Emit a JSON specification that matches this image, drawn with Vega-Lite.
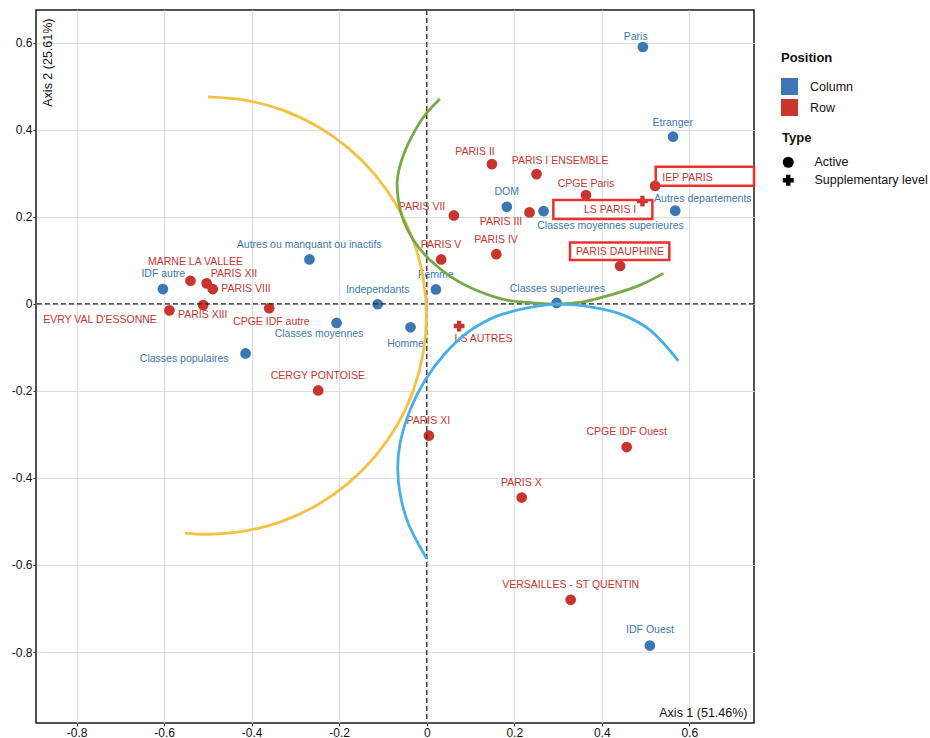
{
  "$schema": "https://vega.github.io/schema/vega-lite/v6.json",
  "width": 718,
  "height": 713,
  "autosize": {"type": "none"},
  "padding": {"left": 36, "top": 10, "right": 176, "bottom": 15},
  "config": {
    "font": "Liberation Sans",
    "view": {"stroke": "#1a1a1a", "strokeWidth": 1.5},
    "axis": {
      "grid": true, "gridColor": "#dedede", "gridWidth": 1.2, "domain": false,
      "tickColor": "#333", "tickSize": 3, "labelFontSize": 12, "labelColor": "#111",
      "labelFont": "Liberation Sans", "titleFont": "Liberation Sans", "titleFontSize": 12.5,
      "titleFontWeight": "normal", "titleColor": "#111", "labelPadding": 1
    },
    "legend": {"labelFont": "Liberation Sans", "labelFontSize": 12.5, "titleFont": "Liberation Sans", "titleFontSize": 13, "titleFontWeight": "bold", "labelColor": "#111", "titleColor": "#111"}
  },
  "datasets": {
    "pts": [
      {"name": "Paris", "x": 0.494, "y": 0.590, "lx": 0.4777, "ly": 0.6138, "position": "Column", "type": "Active"},
      {"name": "Etranger", "x": 0.563, "y": 0.384, "lx": 0.5623, "ly": 0.4154, "position": "Column", "type": "Active"},
      {"name": "Autres departements", "x": 0.568, "y": 0.214, "lx": 0.6311, "ly": 0.2407, "position": "Column", "type": "Active"},
      {"name": "DOM", "x": 0.183, "y": 0.223, "lx": 0.1829, "ly": 0.2568, "position": "Column", "type": "Active"},
      {"name": "Classes moyennes superieures", "x": 0.267, "y": 0.213, "lx": 0.4201, "ly": 0.1786, "position": "Column", "type": "Active"},
      {"name": "Classes superieures", "x": 0.297, "y": 0.002, "lx": 0.2985, "ly": 0.0338, "position": "Column", "type": "Active"},
      {"name": "Femme", "x": 0.021, "y": 0.033, "lx": 0.0208, "ly": 0.0660, "position": "Column", "type": "Active"},
      {"name": "Independants", "x": -0.112, "y": -0.001, "lx": -0.1120, "ly": 0.0308, "position": "Column", "type": "Active"},
      {"name": "Homme", "x": -0.037, "y": -0.054, "lx": -0.0485, "ly": -0.0933, "position": "Column", "type": "Active"},
      {"name": "Classes moyennes", "x": -0.206, "y": -0.044, "lx": -0.2462, "ly": -0.0703, "position": "Column", "type": "Active"},
      {"name": "Autres ou manquant ou inactifs", "x": -0.268, "y": 0.102, "lx": -0.2686, "ly": 0.1349, "position": "Column", "type": "Active"},
      {"name": "IDF autre", "x": -0.603, "y": 0.034, "lx": -0.6021, "ly": 0.0690, "position": "Column", "type": "Active"},
      {"name": "Classes populaires", "x": -0.414, "y": -0.114, "lx": -0.5543, "ly": -0.1264, "position": "Column", "type": "Active"},
      {"name": "IDF Ouest", "x": 0.510, "y": -0.785, "lx": 0.5104, "ly": -0.7501, "position": "Column", "type": "Active"},
      {"name": "PARIS II", "x": 0.149, "y": 0.321, "lx": 0.1104, "ly": 0.3487, "position": "Row", "type": "Active"},
      {"name": "PARIS I ENSEMBLE", "x": 0.251, "y": 0.298, "lx": 0.3047, "ly": 0.3274, "position": "Row", "type": "Active"},
      {"name": "CPGE Paris", "x": 0.364, "y": 0.250, "lx": 0.3641, "ly": 0.2752, "position": "Row", "type": "Active"},
      {"name": "PARIS VII", "x": 0.062, "y": 0.203, "lx": -0.0107, "ly": 0.2230, "position": "Row", "type": "Active"},
      {"name": "PARIS III", "x": 0.235, "y": 0.210, "lx": 0.1698, "ly": 0.1871, "position": "Row", "type": "Active"},
      {"name": "IEP PARIS", "x": 0.522, "y": 0.271, "lx": 0.5961, "ly": 0.2883, "position": "Row", "type": "Active"},
      {"name": "LS PARIS I", "x": 0.493, "y": 0.236, "lx": 0.4190, "ly": 0.2154, "position": "Row", "type": "Supplementary level"},
      {"name": "PARIS V", "x": 0.033, "y": 0.102, "lx": 0.0327, "ly": 0.1349, "position": "Row", "type": "Active"},
      {"name": "PARIS IV", "x": 0.159, "y": 0.114, "lx": 0.1584, "ly": 0.1464, "position": "Row", "type": "Active"},
      {"name": "PARIS DAUPHINE", "x": 0.442, "y": 0.087, "lx": 0.4418, "ly": 0.1189, "position": "Row", "type": "Active"},
      {"name": "LS AUTRES", "x": 0.074, "y": -0.051, "lx": 0.1298, "ly": -0.0805, "position": "Row", "type": "Supplementary level"},
      {"name": "CERGY PONTOISE", "x": -0.248, "y": -0.199, "lx": -0.2489, "ly": -0.1655, "position": "Row", "type": "Active"},
      {"name": "PARIS XI", "x": 0.005, "y": -0.303, "lx": 0.0037, "ly": -0.2697, "position": "Row", "type": "Active"},
      {"name": "CPGE IDF Ouest", "x": 0.457, "y": -0.329, "lx": 0.4571, "ly": -0.2956, "position": "Row", "type": "Active"},
      {"name": "PARIS X", "x": 0.217, "y": -0.445, "lx": 0.2162, "ly": -0.4122, "position": "Row", "type": "Active"},
      {"name": "VERSAILLES - ST QUENTIN", "x": 0.329, "y": -0.680, "lx": 0.3291, "ly": -0.6451, "position": "Row", "type": "Active"},
      {"name": "MARNE LA VALLEE", "x": -0.540, "y": 0.053, "lx": -0.5285, "ly": 0.0959, "position": "Row", "type": "Active"},
      {"name": "PARIS XII", "x": -0.503, "y": 0.047, "lx": -0.4405, "ly": 0.0690, "position": "Row", "type": "Active"},
      {"name": "PARIS VIII", "x": -0.489, "y": 0.034, "lx": -0.4130, "ly": 0.0338, "position": "Row", "type": "Active"},
      {"name": "PARIS XIII", "x": -0.511, "y": -0.003, "lx": -0.5120, "ly": -0.0267, "position": "Row", "type": "Active"},
      {"name": "EVRY VAL D'ESSONNE", "x": -0.588, "y": -0.015, "lx": -0.7467, "ly": -0.0375, "position": "Row", "type": "Active"},
      {"name": "CPGE IDF autre", "x": -0.360, "y": -0.010, "lx": -0.3552, "ly": -0.0428, "position": "Row", "type": "Active"}
    ],
    "arcs": [
      {"arc": "yellow", "i": 1, "x": -0.5000, "y": 0.4752},
      {"arc": "yellow", "i": 2, "x": -0.4133, "y": 0.4676},
      {"arc": "yellow", "i": 3, "x": -0.3292, "y": 0.4449},
      {"arc": "yellow", "i": 4, "x": -0.2503, "y": 0.4079},
      {"arc": "yellow", "i": 5, "x": -0.1790, "y": 0.3577},
      {"arc": "yellow", "i": 6, "x": -0.1174, "y": 0.2958},
      {"arc": "yellow", "i": 7, "x": -0.0675, "y": 0.2241},
      {"arc": "yellow", "i": 8, "x": -0.0307, "y": 0.1447},
      {"arc": "yellow", "i": 9, "x": -0.0082, "y": 0.0601},
      {"arc": "yellow", "i": 10, "x": -0.0006, "y": -0.0271},
      {"arc": "yellow", "i": 11, "x": -0.0082, "y": -0.1143},
      {"arc": "yellow", "i": 12, "x": -0.0307, "y": -0.1989},
      {"arc": "yellow", "i": 13, "x": -0.0675, "y": -0.2783},
      {"arc": "yellow", "i": 14, "x": -0.1174, "y": -0.3500},
      {"arc": "yellow", "i": 15, "x": -0.1790, "y": -0.4119},
      {"arc": "yellow", "i": 16, "x": -0.2503, "y": -0.4621},
      {"arc": "yellow", "i": 17, "x": -0.3292, "y": -0.4991},
      {"arc": "yellow", "i": 18, "x": -0.4133, "y": -0.5218},
      {"arc": "yellow", "i": 19, "x": -0.5000, "y": -0.5294},
      {"arc": "yellow", "i": 20, "x": -0.5522, "y": -0.5266},
      {"arc": "green", "i": 1, "x": 0.0301, "y": 0.4706},
      {"arc": "green", "i": 2, "x": -0.0039, "y": 0.4338},
      {"arc": "green", "i": 3, "x": -0.0343, "y": 0.3839},
      {"arc": "green", "i": 4, "x": -0.0571, "y": 0.3303},
      {"arc": "green", "i": 5, "x": -0.0672, "y": 0.2844},
      {"arc": "green", "i": 6, "x": -0.0649, "y": 0.2384},
      {"arc": "green", "i": 7, "x": -0.0535, "y": 0.1924},
      {"arc": "green", "i": 8, "x": -0.0306, "y": 0.1464},
      {"arc": "green", "i": 9, "x": 0.0075, "y": 0.1005},
      {"arc": "green", "i": 10, "x": 0.0608, "y": 0.0584},
      {"arc": "green", "i": 11, "x": 0.1218, "y": 0.0276},
      {"arc": "green", "i": 12, "x": 0.1829, "y": 0.0085},
      {"arc": "green", "i": 13, "x": 0.2437, "y": 0.0023},
      {"arc": "green", "i": 14, "x": 0.2971, "y": -0.0007},
      {"arc": "green", "i": 15, "x": 0.3579, "y": 0.0046},
      {"arc": "green", "i": 16, "x": 0.4190, "y": 0.0200},
      {"arc": "green", "i": 17, "x": 0.4875, "y": 0.0430},
      {"arc": "green", "i": 18, "x": 0.5408, "y": 0.0699},
      {"arc": "blue", "i": 1, "x": 0.5751, "y": -0.1310},
      {"arc": "blue", "i": 2, "x": 0.5104, "y": -0.0605},
      {"arc": "blue", "i": 3, "x": 0.4494, "y": -0.0260},
      {"arc": "blue", "i": 4, "x": 0.3808, "y": -0.0083},
      {"arc": "blue", "i": 5, "x": 0.2971, "y": -0.0007},
      {"arc": "blue", "i": 6, "x": 0.2247, "y": -0.0106},
      {"arc": "blue", "i": 7, "x": 0.1561, "y": -0.0299},
      {"arc": "blue", "i": 8, "x": 0.0951, "y": -0.0644},
      {"arc": "blue", "i": 9, "x": 0.0418, "y": -0.1140},
      {"arc": "blue", "i": 10, "x": -0.0039, "y": -0.1754},
      {"arc": "blue", "i": 11, "x": -0.0382, "y": -0.2444},
      {"arc": "blue", "i": 12, "x": -0.0610, "y": -0.3209},
      {"arc": "blue", "i": 13, "x": -0.0663, "y": -0.3747},
      {"arc": "blue", "i": 14, "x": -0.0610, "y": -0.4359},
      {"arc": "blue", "i": 15, "x": -0.0421, "y": -0.5048},
      {"arc": "blue", "i": 16, "x": 0.0000, "y": -0.5853}
    ],
    "boxes": [
      {"label": "IEP PARIS", "x1": 0.5234, "x2": 0.748, "y1": 0.2713, "y2": 0.3149},
      {"label": "LS PARIS I", "x1": 0.2894, "x2": 0.5157, "y1": 0.1947, "y2": 0.2384},
      {"label": "PARIS DAUPHINE", "x1": 0.3275, "x2": 0.5545, "y1": 0.1005, "y2": 0.1411}
    ]
  },
  "layer": [
    {
      "data": {"name": "pts"},
      "mark": {"type": "point", "filled": true, "size": 115, "opacity": 1, "strokeWidth": 0},
      "encoding": {
        "x": {
          "field": "x", "type": "quantitative",
          "scale": {"domain": [-0.893, 0.748], "nice": false, "zero": false},
          "axis": {
            "values": [-0.8, -0.6, -0.4, -0.2, 0, 0.2, 0.4, 0.6],
            "labelExpr": "datum.value < 0 ? '-' + format(-datum.value, '.1~f') : format(datum.value, '.1~f')",
            "title": "Axis 1 (51.46%)", "titleX": 711, "titleY": -7, "titleAlign": "right", "titleBaseline": "alphabetic", "titleAngle": 0
          }
        },
        "y": {
          "field": "y", "type": "quantitative",
          "scale": {"domain": [-0.963, 0.675], "nice": false, "zero": false},
          "axis": {
            "values": [-0.8, -0.6, -0.4, -0.2, 0, 0.2, 0.4, 0.6],
            "labelExpr": "datum.value < 0 ? '-' + format(-datum.value, '.1~f') : format(datum.value, '.1~f')",
            "title": "Axis 2 (25.61%)", "titleX": 15, "titleY": 8, "titleAlign": "right", "titleBaseline": "alphabetic", "titleAngle": -90
          }
        },
        "color": {
          "field": "position", "type": "nominal",
          "scale": {"domain": ["Column", "Row"], "range": ["#3b77b4", "#c8352f"]},
          "legend": {"title": "Position", "orient": "none", "legendX": 745, "legendY": 42, "symbolType": "square", "symbolSize": 289, "symbolStrokeWidth": 0, "symbolOpacity": 1, "labelOffset": 12, "rowPadding": 4, "titlePadding": 13}
        },
        "shape": {
          "field": "type", "type": "nominal",
          "scale": {"domain": ["Active", "Supplementary level"], "range": ["circle", "cross"]},
          "legend": {"title": "Type", "orient": "none", "legendX": 746, "legendY": 122, "symbolSize": 121, "symbolFillColor": "#000", "symbolStrokeColor": "#000", "symbolStrokeWidth": 0, "symbolOpacity": 1, "labelOffset": 20, "rowPadding": 5, "titlePadding": 11}
        }
      }
    },
    {
      "data": {"values": [{}]},
      "mark": {"type": "rule", "strokeDash": [5, 3], "color": "#222", "strokeWidth": 1.2},
      "encoding": {"x": {"datum": 0, "type": "quantitative"}}
    },
    {
      "data": {"values": [{}]},
      "mark": {"type": "rule", "strokeDash": [5, 3], "color": "#222", "strokeWidth": 1.2},
      "encoding": {"y": {"datum": 0, "type": "quantitative"}}
    },
    {
      "data": {"name": "pts"},
      "mark": {"type": "text", "fontSize": 10.5, "font": "Liberation Sans", "align": "center", "baseline": "middle"},
      "encoding": {
        "x": {"field": "lx", "type": "quantitative"},
        "y": {"field": "ly", "type": "quantitative"},
        "text": {"field": "name"},
        "color": {"field": "position", "type": "nominal"}
      }
    },
    {
      "data": {"name": "arcs"},
      "transform": [{"filter": "datum.arc === 'yellow'"}],
      "mark": {"type": "line", "color": "#f5c143", "strokeWidth": 2.8, "interpolate": "catmull-rom"},
      "encoding": {"x": {"field": "x", "type": "quantitative"}, "y": {"field": "y", "type": "quantitative"}, "order": {"field": "i"}}
    },
    {
      "data": {"name": "arcs"},
      "transform": [{"filter": "datum.arc === 'green'"}],
      "mark": {"type": "line", "color": "#78a946", "strokeWidth": 2.8, "interpolate": "catmull-rom"},
      "encoding": {"x": {"field": "x", "type": "quantitative"}, "y": {"field": "y", "type": "quantitative"}, "order": {"field": "i"}}
    },
    {
      "data": {"name": "arcs"},
      "transform": [{"filter": "datum.arc === 'blue'"}],
      "mark": {"type": "line", "color": "#48aee8", "strokeWidth": 2.8, "interpolate": "catmull-rom"},
      "encoding": {"x": {"field": "x", "type": "quantitative"}, "y": {"field": "y", "type": "quantitative"}, "order": {"field": "i"}}
    },
    {
      "data": {"name": "boxes"},
      "mark": {"type": "rect", "fill": null, "fillOpacity": 0, "stroke": "#e8322b", "strokeWidth": 2.5},
      "encoding": {
        "x": {"field": "x1", "type": "quantitative"},
        "x2": {"field": "x2"},
        "y": {"field": "y1", "type": "quantitative"},
        "y2": {"field": "y2"}
      }
    }
  ]
}
